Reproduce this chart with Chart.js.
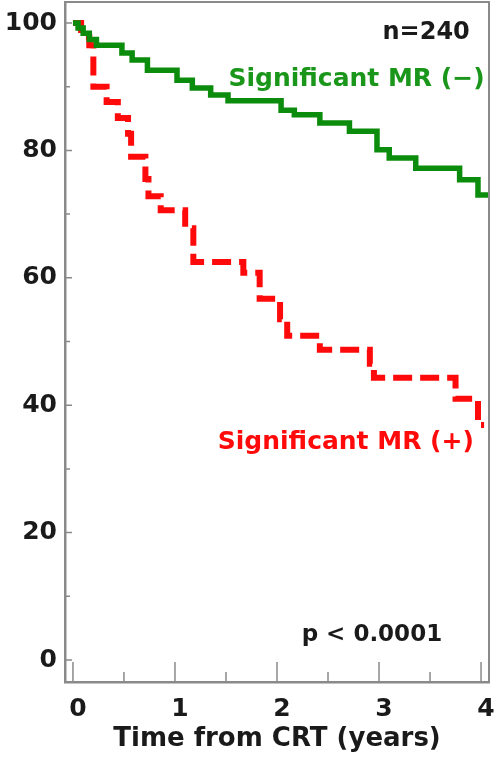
<!DOCTYPE html>
<html>
<head>
<meta charset="utf-8">
<script src="https://cdn.jsdelivr.net/npm/chart.js@4.4.1/dist/chart.umd.min.js"></script>
<style>
  html, body { margin: 0; padding: 0; background: #fff; }
</style>
</head>
<body>
<canvas id="km" width="496" height="761"></canvas>
<script>
// Kaplan-Meier survival after CRT, split by significant mitral regurgitation
const mrNegTime = [0, 0.05, 0.10, 0.16, 0.23, 0.48, 0.58, 0.73, 1.02, 1.17, 1.35, 1.52, 2.04, 2.17, 2.42, 2.71, 2.98, 3.10, 3.36, 3.79, 3.97, 4.07];
const mrNegSurv = [100, 99.2, 98.4, 97.4, 96.5, 95.3, 94.2, 92.6, 91.0, 89.8, 88.7, 87.8, 86.3, 85.6, 84.3, 83.0, 80.1, 78.8, 77.2, 75.4, 73.0, 73.0];

const mrPosTime = [0, 0.08, 0.12, 0.16, 0.20, 0.33, 0.44, 0.54, 0.57, 0.71, 0.74, 0.86, 1.10, 1.18, 1.67, 1.83, 2.03, 2.10, 2.42, 2.91, 2.95, 3.75, 3.97, 4.03];
const mrPosSurv = [100, 98.9, 97.8, 96.5, 90.0, 87.6, 85.1, 82.6, 79.0, 75.5, 72.8, 70.6, 67.8, 62.5, 60.8, 56.7, 53.5, 50.9, 48.7, 46.5, 44.3, 41.0, 36.9, 36.9];

const xTicks = [0, 1, 2, 3, 4];
const xMinorTicks = [0.5, 1.5, 2.5, 3.5];
const yTicks = [0, 20, 40, 60, 80, 100];
const yMinorTicks = [10, 30, 50, 70, 90];

const FONT = "'DejaVu Sans', sans-serif";
const INK = '#1a1a1a';
const AXIS_GRAY = '#8a8a8a';
const GREEN = '#0c8c0c';
const RED = '#ff0a0a';

const toPoints = (xs, ys) => xs.map((x, i) => ({ x, y: ys[i] }));

// frame on top/right plus inward tick marks
const framePlugin = {
    id: 'frame',
    afterDatasetsDraw(chart) {
        const { ctx, chartArea: a, scales: { x, y } } = chart;
        ctx.save();
        ctx.strokeStyle = AXIS_GRAY;
        ctx.lineWidth = 2;
        ctx.beginPath();
        ctx.moveTo(a.left, a.top); ctx.lineTo(a.right, a.top); ctx.lineTo(a.right, a.bottom);
        ctx.stroke();
        ctx.lineWidth = 1.5;
        ctx.beginPath();
        xTicks.forEach(v => { const px = x.getPixelForValue(v); ctx.moveTo(px, a.bottom); ctx.lineTo(px, a.bottom - 20); });
        xMinorTicks.forEach(v => { const px = x.getPixelForValue(v); ctx.moveTo(px, a.bottom); ctx.lineTo(px, a.bottom - 10); });
        yTicks.forEach(v => { const py = y.getPixelForValue(v); ctx.moveTo(a.left, py); ctx.lineTo(a.left + 7, py); });
        yMinorTicks.forEach(v => { const py = y.getPixelForValue(v); ctx.moveTo(a.left, py); ctx.lineTo(a.left + 5, py); });
        ctx.stroke();
        ctx.restore();
    },
    afterDraw(chart) {
        const { ctx, scales: { x, y } } = chart;
        const put = (text, xv, yv, align, color, size) => {
            ctx.font = `bold ${size}px ${FONT}`;
            ctx.fillStyle = color;
            ctx.textAlign = align;
            ctx.textBaseline = 'middle';
            ctx.fillText(text, x.getPixelForValue(xv), y.getPixelForValue(yv));
        };
        ctx.save();
        put('n=240', 3.89, 98.4, 'right', INK, 24);
        put('Significant MR (\u2212)', 4.035, 91.1, 'right', '#1a961a', 25);
        put('Significant MR (+)', 3.93, 34.2, 'right', RED, 25);
        put('p < 0.0001', 2.93, 3.9, 'center', INK, 23);
        ctx.restore();
    }
};

new Chart(document.getElementById('km'), {
    type: 'line',
    data: {
        datasets: [
            {
                label: 'Significant MR (-)',
                data: toPoints(mrNegTime, mrNegSurv),
                borderColor: GREEN, borderWidth: 5.5,
                stepped: 'before', pointRadius: 0, fill: false,
                borderJoinStyle: 'miter', borderCapStyle: 'butt'
            },
            {
                label: 'Significant MR (+)',
                data: toPoints(mrPosTime, mrPosSurv),
                borderColor: RED, borderWidth: 6, borderDash: [19, 8],
                stepped: 'before', pointRadius: 0, fill: false,
                borderJoinStyle: 'miter', borderCapStyle: 'butt'
            }
        ]
    },
    options: {
        responsive: false,
        animation: false,
        layout: { padding: { top: 2, right: 7, bottom: 0, left: 0 } },
        plugins: { legend: { display: false }, tooltip: { enabled: false } },
        scales: {
            x: {
                type: 'linear', min: -0.078, max: 4.078,
                afterBuildTicks: s => { s.ticks = xTicks.map(v => ({ value: v })); },
                afterFit: s => { s.height = 79; s.paddingLeft = 0; s.paddingRight = 0; },
                grid: { display: false, drawTicks: false },
                border: { display: true, color: AXIS_GRAY, width: 2.5 },
                ticks: { color: INK, font: { family: FONT, size: 25, weight: 'bold' }, padding: 12, labelOffset: 5, maxRotation: 0 },
                title: { display: true, text: 'Time from CRT (years)', color: INK, font: { family: FONT, size: 26, weight: 'bold' }, padding: { top: 0, bottom: 6 } }
            },
            y: {
                type: 'linear', min: -3.45, max: 103.3,
                afterBuildTicks: s => { s.ticks = yTicks.map(v => ({ value: v })); },
                afterFit: s => { s.width = 65; s.paddingTop = 0; s.paddingBottom = 0; },
                grid: { display: false, drawTicks: false },
                border: { display: true, color: AXIS_GRAY, width: 2.5 },
                ticks: { color: INK, font: { family: FONT, size: 25, weight: 'bold' }, padding: 8 }
            }
        }
    },
    plugins: [framePlugin]
});
</script>
</body>
</html>
